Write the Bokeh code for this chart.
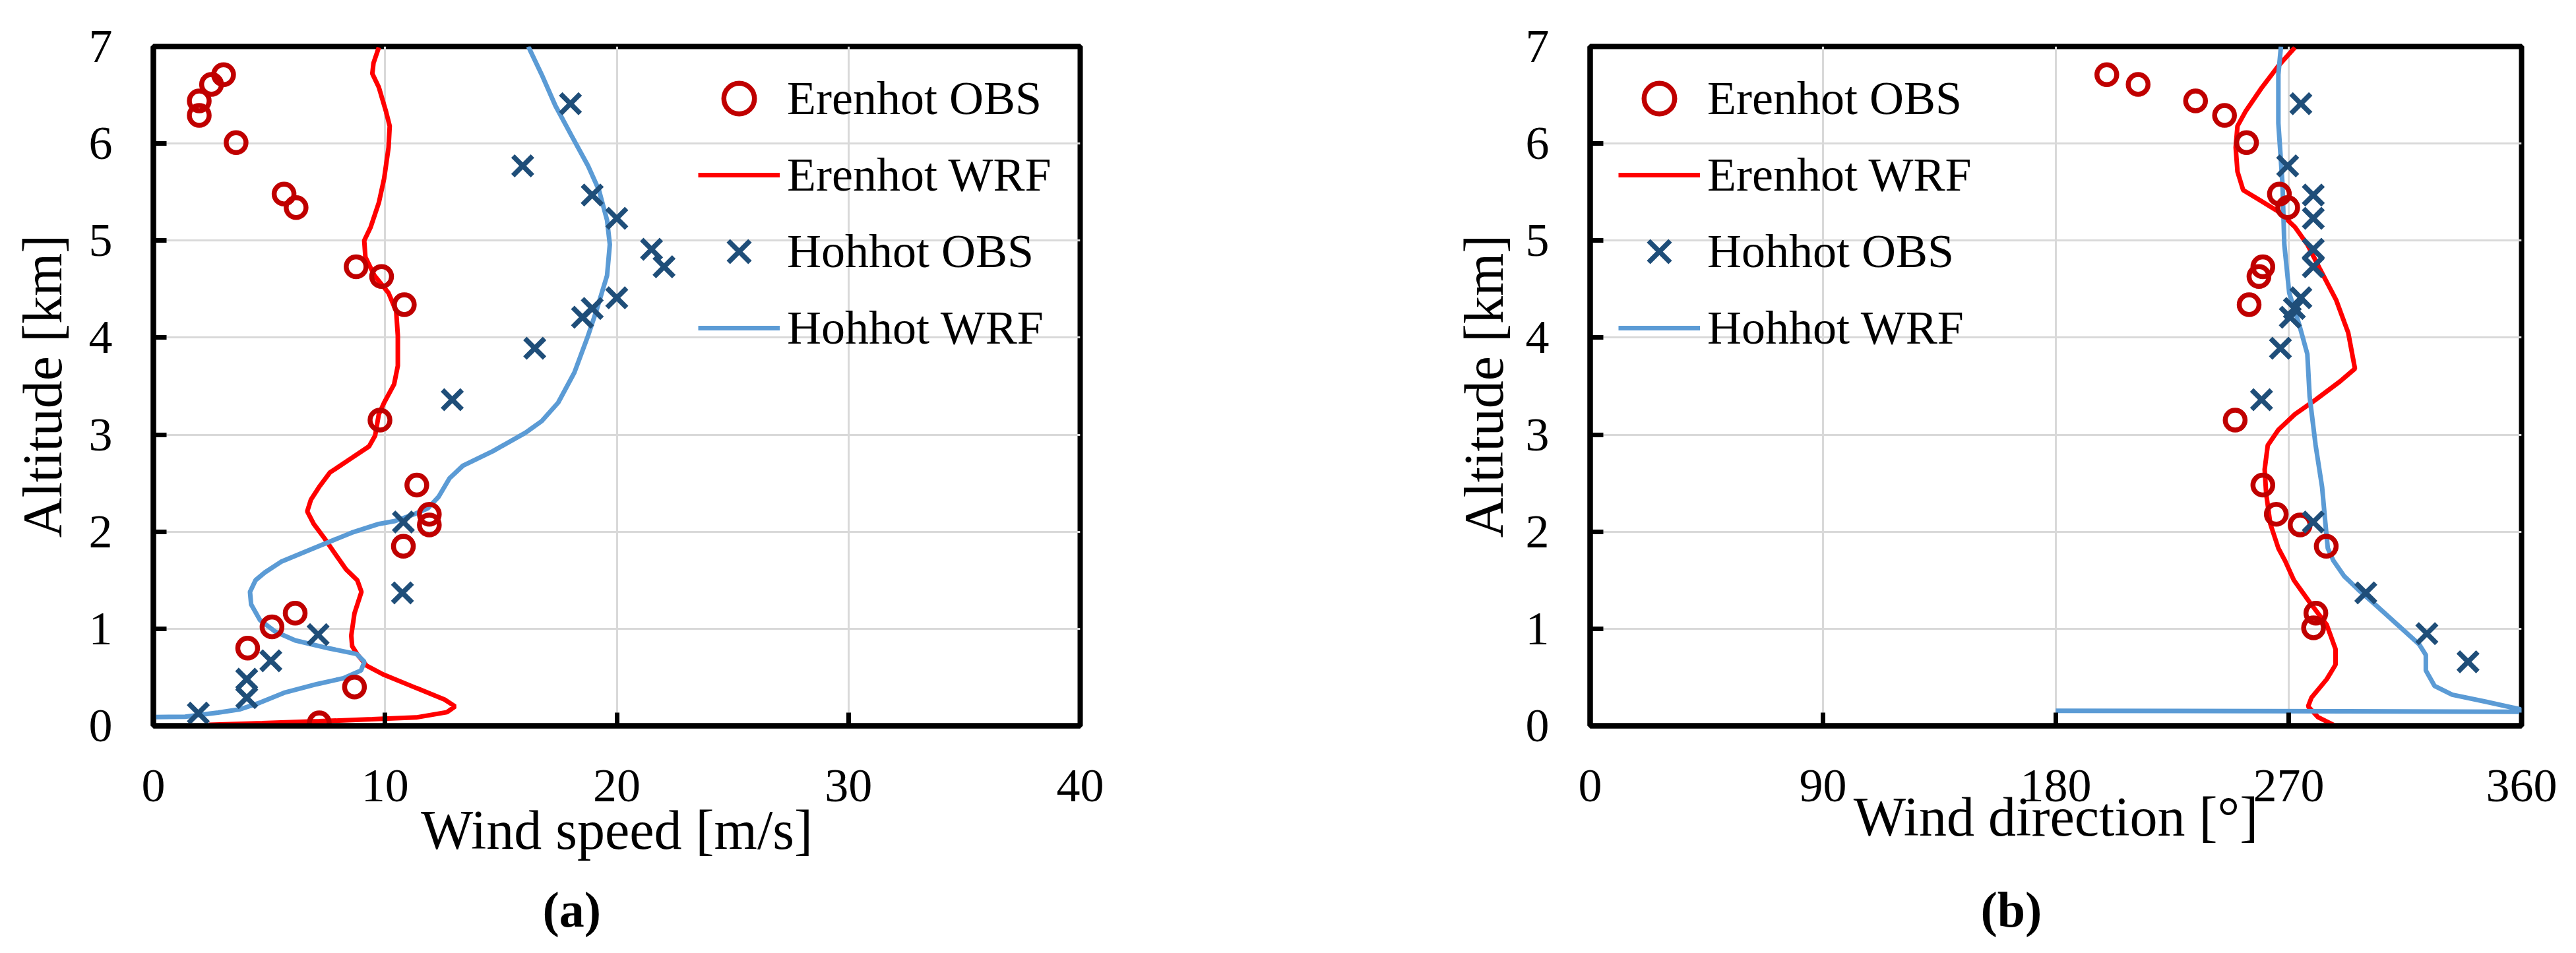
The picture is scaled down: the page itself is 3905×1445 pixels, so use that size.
from bokeh.plotting import figure
from bokeh.models import Legend, LegendItem, Title, FixedTicker
from bokeh.layouts import row
from bokeh.embed import file_html
from bokeh.resources import INLINE

# ---------------- data: panel (a) wind speed ----------------
ere_obs_alt = [6.71, 6.61, 6.44, 6.29, 6.01, 5.48, 5.34, 4.73, 4.63, 4.34,
               3.15, 2.48, 2.18, 2.07, 1.85, 1.16, 1.02, 0.80, 0.40, 0.03]
ere_obs_spd = [3.03, 2.51, 1.98, 1.98, 3.57, 5.64, 6.16, 8.75, 9.85, 10.83,
               9.78, 11.37, 11.91, 11.91, 10.79, 6.12, 5.12, 4.07, 8.68, 7.16]

hoh_obs_alt = [6.41, 5.77, 5.47, 5.23, 4.91, 4.73, 4.41, 4.30, 4.21, 3.89,
               3.36, 2.10, 1.37, 0.94, 0.67, 0.48, 0.29, 0.13]
hoh_obs_spd = [18.0, 15.94, 18.94, 20.0, 21.5, 22.04, 20.0, 18.94, 18.52, 16.46,
               12.9, 10.79, 10.75, 7.11, 5.07, 4.03, 4.03, 1.94]

ere_wrf_alt = [6.99, 6.83, 6.72, 6.58, 6.33, 6.18, 5.96, 5.64, 5.39, 5.14, 5.00,
               4.83, 4.64, 4.46, 4.27, 4.02, 3.71, 3.52, 3.33, 3.21, 2.99, 2.88,
               2.76, 2.61, 2.46, 2.33, 2.21, 2.08, 1.93, 1.77, 1.61, 1.50, 1.38,
               1.16, 0.93, 0.82, 0.73, 0.62, 0.53, 0.39, 0.27, 0.20, 0.14, 0.086,
               0.068, 0.047, 0.027, 0.011]
ere_wrf_spd = [9.73, 9.50, 9.45, 9.73, 10.04, 10.20, 10.15, 9.96, 9.73, 9.38, 9.10,
               9.15, 9.54, 10.15, 10.48, 10.55, 10.55, 10.39, 9.96, 9.73, 9.57, 9.31,
               8.56, 7.62, 7.15, 6.80, 6.64, 6.92, 7.39, 7.85, 8.32, 8.80, 8.98,
               8.68, 8.54, 8.58, 8.82, 9.20, 9.91, 11.34, 12.57, 13.02, 12.67, 11.34,
               9.44, 7.15, 4.69, 2.41]

hoh_wrf_alt = [7.00, 6.71, 6.39, 6.08, 5.77, 5.52, 5.21, 4.96, 4.64, 4.27, 4.02,
               3.64, 3.33, 3.14, 3.02, 2.83, 2.68, 2.55, 2.36, 2.24, 2.18, 2.11,
               2.08, 1.99, 1.83, 1.69, 1.58, 1.50, 1.38, 1.25, 1.09, 0.97, 0.88,
               0.80, 0.74, 0.66, 0.57, 0.49, 0.43, 0.34, 0.23, 0.17, 0.136, 0.094,
               0.09]
hoh_wrf_spd = [16.18, 16.76, 17.35, 18.05, 18.76, 19.23, 19.58, 19.70, 19.58, 19.11, 18.76,
               18.17, 17.47, 16.76, 16.06, 14.65, 13.36, 12.78, 12.31, 11.84, 11.25, 10.43,
               9.73, 8.56, 6.92, 5.51, 4.81, 4.41, 4.17, 4.22, 4.60, 5.26, 6.12,
               7.54, 8.77, 9.11, 8.96, 8.20, 7.07, 5.64, 4.50, 3.74, 2.79, 1.37,
               0.09]

# ---------------- data: panel (b) wind direction ----------------
ere_obs_dir_alt = [6.71, 6.61, 6.44, 6.29, 6.01, 5.48, 5.34, 4.73, 4.63, 4.34,
                   3.15, 2.48, 2.18, 2.07, 1.85, 1.16, 1.01]
ere_obs_dir = [199.7, 211.8, 234.0, 245.2, 253.7, 266.4, 269.6, 260.0, 258.5, 254.7,
               249.3, 260.0, 265.2, 274.4, 284.5, 280.5, 279.6]

hoh_obs_dir_alt = [6.41, 5.77, 5.47, 5.23, 4.91, 4.73, 4.41, 4.30, 4.21, 3.89,
                   3.36, 2.10, 1.37, 0.95, 0.66]
hoh_obs_dir = [274.7, 269.6, 279.5, 279.5, 279.5, 279.5, 274.7, 272.2, 270.6, 266.8,
               259.5, 279.5, 299.8, 323.4, 339.3]

ere_wrf_dir_alt = [6.99, 6.80, 6.58, 6.33, 6.18, 5.96, 5.71, 5.52, 5.43, 5.30, 5.14,
                   4.96, 4.71, 4.39, 4.05, 3.68, 3.55, 3.36, 3.21, 3.05, 2.89, 2.64,
                   2.39, 2.08, 1.83, 1.70, 1.50, 1.28, 1.04, 0.79, 0.63, 0.48, 0.29,
                   0.20, 0.09, 0.01]
ere_wrf_dir = [272.4, 266.0, 259.7, 253.3, 250.2, 249.5, 250.2, 252.4, 258.0, 266.0, 272.4,
               277.2, 282.0, 288.3, 293.0, 295.6, 289.9, 280.4, 272.4, 266.0, 261.9, 260.7,
               261.3, 262.9, 266.0, 268.6, 272.0, 277.9, 284.7, 288.1, 288.1, 284.7, 278.8,
               277.5, 281.3, 287.3]

hoh_wrf_dir_alt = [7.00, 6.71, 6.21, 5.58, 4.96, 4.46, 4.14, 3.83, 3.39, 2.89, 2.46,
                   2.08, 1.83, 1.70, 1.54, 1.40, 1.25, 0.84, 0.73, 0.57, 0.41, 0.32,
                   0.25, 0.17, 0.145, 0.155]
hoh_wrf_dir = [267.0, 266.0, 266.0, 267.6, 268.3, 270.2, 274.0, 277.2, 278.1, 280.4, 282.9,
               284.2, 285.1, 287.3, 291.5, 297.0, 303.4, 320.4, 323.0, 323.0, 326.4, 333.2,
               345.9, 359.5, 360.0, 180.0]

speed_ticks = [0, 10, 20, 30, 40]
dir_ticks = [0, 90, 180, 270, 360]
alt_ticks = [0, 1, 2, 3, 4, 5, 6, 7]

legend_labels = ["Erenhot OBS", "Erenhot WRF", "Hohhot OBS", "Hohhot WRF"]

FONT = "Liberation Serif"
C_EOBS = "#C00000"
C_EWRF = "#FF0000"
C_HOBS = "#1F4E79"
C_HWRF = "#5B9BD5"


def make_panel(xr, xticks, grid_ticks, xlabel, frame_w, border_left, border_right,
               e_obs_x, e_obs_y, e_wrf_x, e_wrf_y, h_obs_x, h_obs_y, h_wrf_x, h_wrf_y,
               legend_x, caption, cap_offset, cap_standoff, ylab_standoff, xlab_standoff):
    p = figure(frame_width=frame_w, frame_height=1030, x_range=xr, y_range=(0, 7),
               output_backend="svg", toolbar_location=None,
               min_border_left=border_left, min_border_right=border_right,
               min_border_top=70, min_border_bottom=300)
    p.background_fill_color = "white"
    p.border_fill_color = "white"
    p.outline_line_color = "black"
    p.outline_line_width = 8

    p.xgrid.ticker = FixedTicker(ticks=grid_ticks)
    p.ygrid.ticker = FixedTicker(ticks=[1, 2, 3, 4, 5, 6])
    for g in (p.xgrid, p.ygrid):
        g.grid_line_color = "#D9D9D9"
        g.grid_line_width = 3

    p.xaxis.ticker = FixedTicker(ticks=xticks)
    p.yaxis.ticker = FixedTicker(ticks=alt_ticks)
    for ax in (p.xaxis[0], p.yaxis[0]):
        ax.axis_line_color = "black"
        ax.axis_line_width = 8
        ax.major_tick_in = 20
        ax.major_tick_out = 0
        ax.major_tick_line_width = 7
        ax.major_tick_line_color = "black"
        ax.minor_tick_line_color = None
        ax.major_label_text_font = FONT
        ax.major_label_text_font_size = "72px"
        ax.major_label_text_color = "black"
        ax.axis_label_text_font = FONT
        ax.axis_label_text_font_size = "84px"
        ax.axis_label_text_font_style = "normal"
        ax.axis_label_text_color = "black"
    p.xaxis.major_label_standoff = 67
    p.yaxis.major_label_standoff = 62
    p.xaxis.axis_label = xlabel
    p.yaxis.axis_label = "Altitude [km]"
    p.xaxis.axis_label_standoff = xlab_standoff
    p.yaxis.axis_label_standoff = ylab_standoff

    r_ewrf = p.line(e_wrf_x, e_wrf_y, line_color=C_EWRF, line_width=7)
    r_hwrf = p.line(h_wrf_x, h_wrf_y, line_color=C_HWRF, line_width=7)
    r_eobs = p.scatter(e_obs_x, e_obs_y, marker="circle", size=30,
                       fill_color=None, line_color=C_EOBS, line_width=7.5)
    r_hobs = p.scatter(h_obs_x, h_obs_y, marker="x", size=42,
                       line_color=C_HOBS, line_width=7.5)

    items = [LegendItem(label=legend_labels[0], renderers=[r_eobs]),
             LegendItem(label=legend_labels[1], renderers=[r_ewrf]),
             LegendItem(label=legend_labels[2], renderers=[r_hobs]),
             LegendItem(label=legend_labels[3], renderers=[r_hwrf])]
    leg = Legend(items=items, location=(legend_x, 545),
                 glyph_width=124, glyph_height=116, label_height=116,
                 label_standoff=11, padding=0, margin=0, spacing=0,
                 label_text_font=FONT, label_text_font_size="72px",
                 label_text_color="black",
                 border_line_color=None, background_fill_alpha=0)
    p.add_layout(leg)

    cap = Title(text=caption, align="left", offset=cap_offset, standoff=cap_standoff,
                vertical_align="top",
                text_font=FONT, text_font_size="76px", text_font_style="bold",
                text_color="black")
    p.add_layout(cap, "below")
    return p


p1 = make_panel((0, 40), speed_ticks, [10, 20, 30], "Wind speed [m/s]", 1405, 232, 549,
                ere_obs_spd, ere_obs_alt, ere_wrf_spd, ere_wrf_alt,
                hoh_obs_spd, hoh_obs_alt, hoh_wrf_spd, hoh_wrf_alt,
                826, "(a)", 590, 58, 21, -6)
p2 = make_panel((0, 360), dir_ticks, [90, 180, 270], "Wind direction [°]", 1412, 224, 64,
                ere_obs_dir, ere_obs_dir_alt, ere_wrf_dir, ere_wrf_dir_alt,
                hoh_obs_dir, hoh_obs_dir_alt, hoh_wrf_dir, hoh_wrf_dir_alt,
                43, "(b)", 592, 98, 14, -26)

layout = row(p1, p2, spacing=0)
open("out.html", "w").write(file_html(layout, INLINE))
